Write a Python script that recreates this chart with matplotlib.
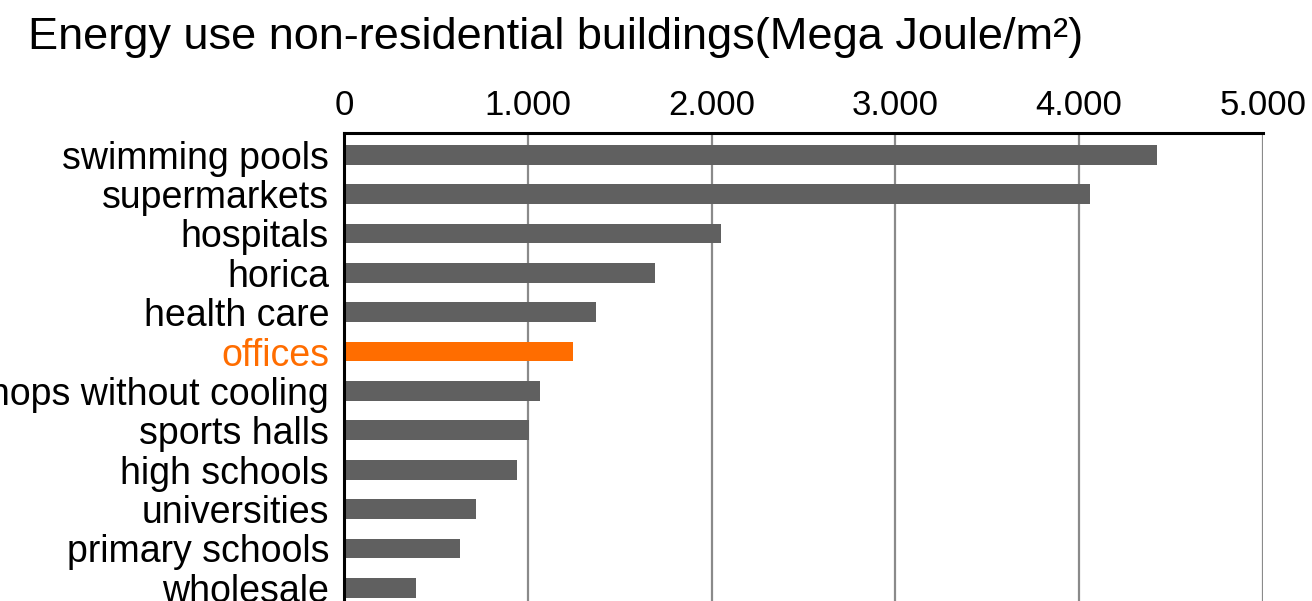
import matplotlib
matplotlib.use("Agg")
import matplotlib.pyplot as plt
from matplotlib.ticker import FuncFormatter

categories = ["swimming pools", "supermarkets", "hospitals", "horica", "health care",
              "offices", "shops without cooling", "sports halls", "high schools",
              "universities", "primary schools", "wholesale"]
values = [4425, 4060, 2049, 1690, 1369, 1243, 1064, 1006, 939, 715, 628, 389]
highlight = "offices"
xticks = [0, 1000, 2000, 3000, 4000, 5000]
title = "Energy use non-residential buildings(Mega Joule/m\u00b2)"

plt.rcParams['font.family'] = ['Liberation Sans', 'DejaVu Sans']

W, H = 1312, 601
fig = plt.figure(figsize=(W / 100, H / 100), dpi=100)
left, right, top = 344.3, 1262.7, 132.7
ax = fig.add_axes([left / W, 0, (right - left) / W, 1 - top / H])

gray = "#606060"
orange = "#FF6D00"
colors = [orange if c == highlight else gray for c in categories]
ypos = list(range(len(categories)))
ax.barh(ypos, values, height=0.5, color=colors, zorder=3)

ax.set_xlim(0, 5000)
ax.set_ylim(11.336, -0.559)
ax.xaxis.tick_top()
ax.set_xticks(xticks)
ax.xaxis.set_major_formatter(FuncFormatter(lambda v, p: f"{int(v):,}".replace(",", ".")))
ax.tick_params(axis='x', length=0, pad=8, labelsize=25)
ax.set_yticks(ypos)
ax.set_yticklabels(categories)
ax.tick_params(axis='y', length=0, pad=11, labelsize=27)
for lbl, c in zip(ax.get_yticklabels(), categories):
    if c == highlight:
        lbl.set_color(orange)

ax.grid(axis='x', color="#8a8a8a", linewidth=1.6, zorder=1)
ax.grid(axis='y', visible=False)
for s in ["bottom", "right"]:
    ax.spines[s].set_visible(False)
ax.spines["top"].set_linewidth(2.2)
ax.spines["left"].set_linewidth(2.2)
ax.spines["top"].set_color("black")
ax.spines["left"].set_color("black")
ax.spines["top"].set_zorder(4)
ax.spines["left"].set_zorder(4)

fig.text(28 / W, 1 - 49.5 / H, title, fontsize=32.5, ha="left", va="baseline")

fig.savefig("out.png", dpi=100)
